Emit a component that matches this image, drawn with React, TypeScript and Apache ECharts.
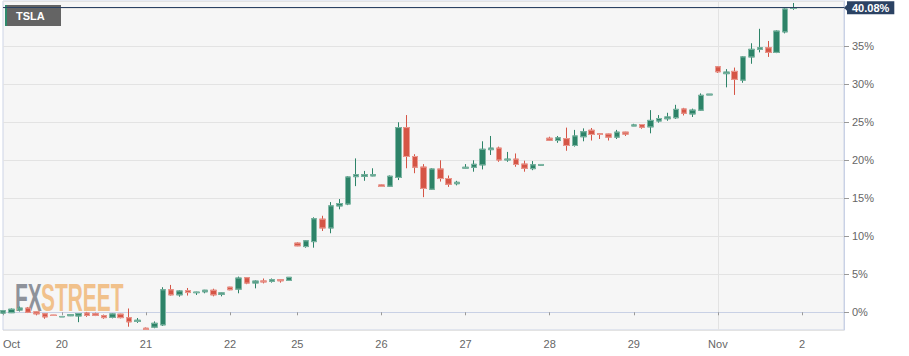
import React, { useEffect, useRef } from 'react';
import * as echarts from 'echarts';

// Day labels on the time axis and the number of candle slots each day holds
const dayLabels = ['Oct', '20', '21', '22', '25', '26', '27', '28', '29', 'Nov', '2'];
const sessionsPerDay = [7, 10, 10, 8, 10, 10, 10, 10, 10, 10, 6];

// TSLA change in %, one row per candle: [open, close, low, high]
const candles: [number, number, number, number][] = [
  // Oct 19
  [-0.1, 0.2, -0.2, 0.3],
  [-0.05, 0.4, -0.1, 0.5],
  [0.3, 0.55, 0.1, 0.75],
  [0.55, 0.0, -0.1, 0.7],
  [0.05, -0.2, -0.4, 0.1],
  [-0.2, -0.6, -0.85, -0.1],
  [-0.38, -0.42, -0.45, -0.35],
  // Oct 20
  [-0.6, -0.55, -0.62, -0.52],
  [-0.45, -0.32, -0.5, -0.25],
  [-0.48, -0.18, -1.3, -0.12],
  [-0.1, -0.4, -0.6, 0.05],
  [-0.2, -0.4, -0.5, -0.05],
  [-0.45, -0.7, -0.85, -0.3],
  [-0.66, -0.22, -0.8, -0.15],
  [-0.25, -0.7, -0.8, -0.2],
  [-0.72, -1.25, -1.9, 0.5],
  [-1.2, -1.05, -1.4, -0.75],
  // Oct 21
  [-2.1, -2.25, -2.33, -2.0],
  [-1.95, -1.45, -2.1, -1.2],
  [-1.65, 2.95, -1.8, 3.3],
  [2.95, 2.3, 2.2, 3.6],
  [2.3, 2.8, 2.05, 2.9],
  [2.85, 2.6, 2.2, 3.2],
  [2.58, 2.65, 2.28, 2.7],
  [2.7, 2.9, 2.5, 2.95],
  [2.9, 2.3, 2.1, 3.1],
  [2.38, 2.55, 2.1, 2.6],
  // Oct 22
  [3.3, 2.97, 2.9, 3.35],
  [3.05, 4.5, 2.5, 4.7],
  [4.55, 3.85, 3.7, 4.6],
  [3.86, 4.1, 3.15, 4.2],
  [4.12, 4.0, 3.8, 4.45],
  [4.08, 4.28, 3.9, 4.45],
  [4.28, 4.15, 3.9, 4.3],
  [4.2, 4.6, 4.18, 4.62],
  // Oct 25
  [9.1, 8.75, 8.7, 9.2],
  [8.65, 9.4, 8.5, 9.5],
  [9.3, 12.3, 8.5, 12.5],
  [12.25, 11.1, 10.7, 12.7],
  [11.1, 14.0, 10.4, 14.5],
  [14.0, 14.3, 13.55, 14.9],
  [14.25, 17.8, 14.1, 17.9],
  [17.85, 18.1, 16.6, 20.25],
  [17.9, 18.1, 17.3, 18.6],
  [17.95, 18.1, 17.9, 18.95],
  // Oct 26
  [16.75, 16.55, 16.5, 16.8],
  [16.6, 17.9, 16.55, 18.0],
  [17.75, 24.3, 17.4, 25.0],
  [24.3, 20.5, 18.95, 25.95],
  [20.5, 19.1, 18.3, 20.8],
  [19.1, 16.3, 15.15, 19.5],
  [16.2, 18.85, 16.1, 18.95],
  [18.85, 17.6, 17.2, 20.0],
  [17.6, 16.85, 16.5, 18.0],
  [16.92, 17.1, 16.7, 17.3],
  // Oct 27
  [18.97, 19.08, 18.95, 19.5],
  [19.08, 19.47, 18.5, 20.0],
  [19.4, 21.45, 18.8, 22.5],
  [21.4, 21.6, 20.7, 23.2],
  [21.6, 20.05, 19.8, 21.8],
  [20.05, 20.15, 19.8, 21.1],
  [20.15, 19.45, 19.15, 20.9],
  [19.5, 18.95, 18.5, 19.95],
  [18.9, 19.4, 18.7, 19.9],
  [19.35, 19.45, 19.3, 19.5],
  // Oct 28
  [22.9, 22.65, 22.6, 23.1],
  [22.6, 22.95, 22.3, 23.2],
  [22.85, 21.95, 21.25, 24.3],
  [21.95, 23.2, 21.8, 24.0],
  [23.1, 23.75, 22.5, 24.2],
  [23.95, 23.4, 22.6, 24.25],
  [23.5, 23.4, 22.8, 23.55],
  [23.45, 23.05, 22.6, 23.5],
  [23.05, 23.7, 22.8, 24.0],
  [23.7, 23.45, 23.2, 23.75],
  // Oct 29
  [24.52, 24.65, 24.5, 24.8],
  [24.7, 24.35, 24.15, 24.75],
  [24.4, 25.25, 23.55, 26.6],
  [25.17, 25.5, 24.95, 25.95],
  [25.47, 25.7, 25.2, 26.25],
  [25.6, 26.7, 25.45, 27.3],
  [26.75, 26.2, 25.9, 26.9],
  [26.1, 26.6, 25.7, 26.8],
  [26.6, 28.55, 26.5, 28.8],
  [28.6, 28.7, 28.6, 28.72],
  // Nov 1
  [32.3, 31.65, 31.5, 32.4],
  [31.4, 31.6, 29.6, 32.0],
  [31.7, 30.65, 28.6, 32.2],
  [30.55, 33.6, 30.2, 33.7],
  [33.6, 34.6, 32.7, 35.4],
  [34.6, 34.8, 34.2, 37.3],
  [34.8, 34.2, 33.6, 35.7],
  [34.2, 37.0, 34.1, 37.1],
  [36.9, 39.9, 36.7, 40.0],
  [40.0, 40.08, 39.8, 40.7],
];

const symbolName = 'TSLA';
const lastChange = 40.08;
const yMin = -2.33;
const yMax = 40.96;

const FONT = '"Liberation Sans", Arial, Helvetica, sans-serif';
const UP = '#2d8368';
const DOWN = '#d55546';
const UP_EDGE = '#82b9a7';
const DOWN_EDGE = '#eb9d94';
const TAG = '#2b4263';

export default function App() {
  const ref = useRef<HTMLDivElement>(null);

  useEffect(() => {
    const chart = echarts.init(ref.current!, null, { renderer: 'svg' });

    const categories: string[] = [];
    const labelAt: Record<number, string> = {};
    dayLabels.forEach((lab, d) => {
      for (let k = 0; k < sessionsPerDay[d]; k++) {
        if (k === 0) labelAt[categories.length] = lab;
        categories.push(`${lab}-${k + 1}`);
      }
    });
    const isDayStart = (i: number) => labelAt[i] !== undefined;
    const novIndex = categories.indexOf('Nov-1');
    const lastIndex = categories.length - 1;

    const bodies = candles.map(([o, c]) => [o, c, Math.min(o, c), Math.max(o, c)]);

    chart.setOption({
      animation: false,
      textStyle: { fontFamily: FONT },
      grid: {
        left: 0,
        right: 65,
        top: 1,
        bottom: 26,
        show: true,
        backgroundColor: '#f6f6f6',
        borderColor: '#cdd4e6',
        borderWidth: 1,
      },
      xAxis: {
        type: 'category',
        data: categories,
        boundaryGap: false,
        axisLine: { show: true, lineStyle: { color: '#c9d1e5', width: 1 } },
        axisTick: {
          show: true,
          interval: (i: number) => isDayStart(i),
          length: 3,
          lineStyle: { color: '#999' },
        },
        axisLabel: {
          interval: (i: number) => isDayStart(i),
          formatter: (_v: string, i: number) => labelAt[i] ?? '',
          margin: 8,
          color: '#666',
          fontSize: 11,
          fontFamily: FONT,
          alignMinLabel: 'left',
        },
        splitLine: {
          show: true,
          interval: (i: number) => i === novIndex,
          lineStyle: { color: '#e3e3e3', width: 1 },
        },
      },
      yAxis: {
        type: 'value',
        position: 'right',
        min: yMin,
        max: yMax,
        splitNumber: 8,
        axisLine: { show: true, lineStyle: { color: '#c9d1e5', width: 1 } },
        axisTick: { show: true, length: 5, lineStyle: { color: '#999' } },
        axisLabel: {
          showMinLabel: false,
          showMaxLabel: false,
          formatter: (v: number) => (v >= 40 ? '' : `${v}%`),
          margin: 8,
          color: '#666',
          fontSize: 11,
          fontFamily: FONT,
        },
        splitLine: { show: true, lineStyle: { color: '#e3e3e3', width: 1 } },
      },
      series: [
        {
          name: 'wicks',
          type: 'candlestick',
          data: candles,
          barWidth: 6,
          silent: true,
          itemStyle: {
            color: UP,
            color0: DOWN,
            borderColor: UP,
            borderColor0: DOWN,
            borderWidth: 1,
          },
        },
        {
          name: symbolName,
          type: 'candlestick',
          data: bodies,
          barWidth: 6,
          silent: true,
          itemStyle: {
            color: UP,
            color0: DOWN,
            borderColor: UP_EDGE,
            borderColor0: DOWN_EDGE,
            borderWidth: 1,
          },
          markLine: {
            silent: true,
            symbol: ['none', 'none'],
            lineStyle: { color: TAG, width: 1, type: 'solid' },
            data: [{ yAxis: lastChange }],
            label: {
              show: true,
              position: 'end',
              distance: 3,
              formatter: `${lastChange.toFixed(2)}%`,
              color: '#fff',
              backgroundColor: TAG,
              padding: [1, 5, 1, 5],
              fontSize: 11,
              fontWeight: 'bold',
              fontFamily: FONT,
            },
          },
          markPoint: {
            silent: true,
            symbol: 'triangle',
            symbolSize: [8, 4],
            symbolRotate: 90,
            symbolOffset: [2, 0],
            itemStyle: { color: TAG },
            label: { show: false },
            data: [{ coord: [lastIndex, lastChange] }],
          },
        },
      ],
      graphic: [
        {
          type: 'text',
          z: 1,
          silent: true,
          x: 15,
          y: 297,
          scaleX: 0.55,
          style: {
            text: 'FX',
            fill: '#8e929a',
            fontSize: 38,
            fontWeight: 'bold',
            fontFamily: FONT,
            textAlign: 'left',
            textVerticalAlign: 'middle',
          },
        },
        {
          type: 'text',
          z: 1,
          silent: true,
          x: 41,
          y: 297,
          scaleX: 0.55,
          style: {
            text: 'STREET',
            fill: '#f1c18b',
            fontSize: 38,
            fontWeight: 'bold',
            fontFamily: FONT,
            textAlign: 'left',
            textVerticalAlign: 'middle',
          },
        },
        {
          type: 'rect',
          z: 1,
          silent: true,
          shape: { x: 5, y: 5, width: 56, height: 21 },
          style: { fill: '#646464' },
        },
        {
          type: 'rect',
          z: 1,
          silent: true,
          shape: { x: 5, y: 5, width: 2, height: 21 },
          style: { fill: '#2e8a6c' },
        },
        {
          type: 'text',
          z: 1,
          silent: true,
          x: 16,
          y: 16,
          style: {
            text: symbolName,
            fill: '#ffffff',
            fontSize: 11,
            fontWeight: 'bold',
            fontFamily: FONT,
            textAlign: 'left',
            textVerticalAlign: 'middle',
          },
        },
      ],
    });

    return () => chart.dispose();
  }, []);

  return (
    <div
      ref={ref}
      style={{ position: 'absolute', left: 0, top: 0, width: 909, height: 356 }}
    />
  );
}
